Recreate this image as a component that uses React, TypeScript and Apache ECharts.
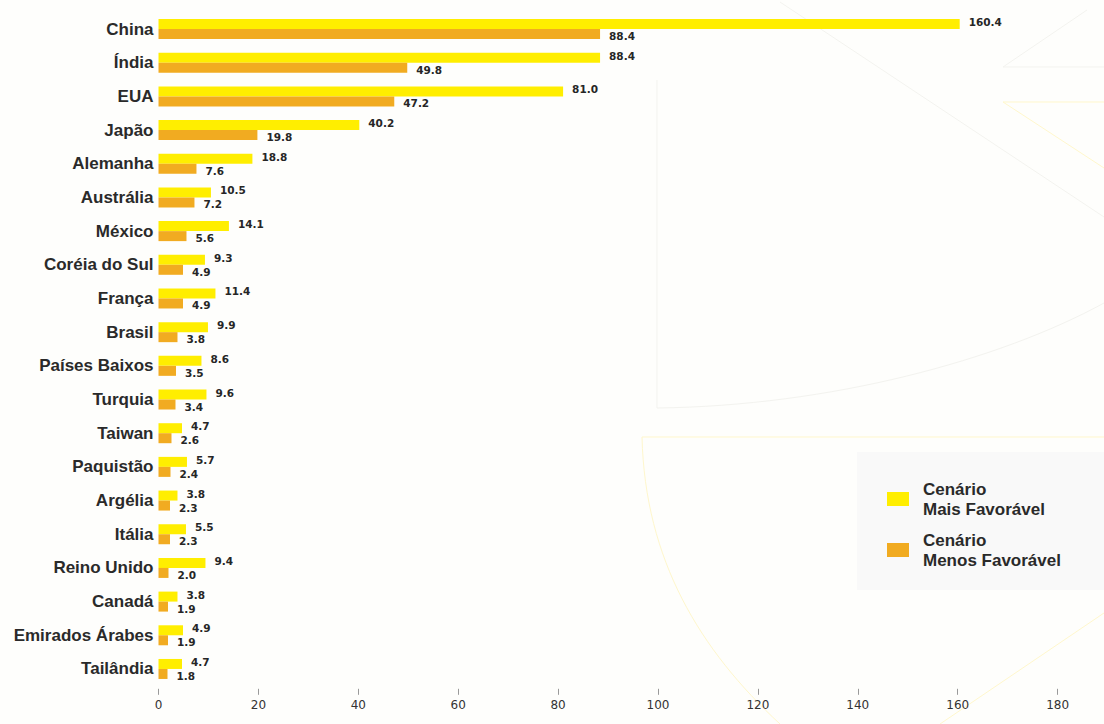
import React, { useEffect, useRef } from "react";
import * as echarts from "echarts";

const categories = [
  "China", "Índia", "EUA", "Japão", "Alemanha", "Austrália", "México",
  "Coréia do Sul", "França", "Brasil", "Países Baixos", "Turquia", "Taiwan",
  "Paquistão", "Argélia", "Itália", "Reino Unido", "Canadá",
  "Emirados Árabes", "Tailândia",
];
const maisFavoravel = [
  160.4, 88.4, 81.0, 40.2, 18.8, 10.5, 14.1, 9.3, 11.4, 9.9, 8.6, 9.6, 4.7,
  5.7, 3.8, 5.5, 9.4, 3.8, 4.9, 4.7,
];
const menosFavoravel = [
  88.4, 49.8, 47.2, 19.8, 7.6, 7.2, 5.6, 4.9, 4.9, 3.8, 3.5, 3.4, 2.6, 2.4,
  2.3, 2.3, 2.0, 1.9, 1.9, 1.8,
];
const seriesNames = ["Cenário\nMais Favorável", "Cenário\nMenos Favorável"];
const xTicks = { min: 0, max: 180, interval: 20 };

const YELLOW = "#FFEE00";
const ORANGE = "#F1AB21";

export default function App() {
  const ref = useRef<HTMLDivElement>(null);
  useEffect(() => {
    if (!ref.current) return;
    const chart = echarts.init(ref.current, undefined, { renderer: "svg" });
    const valueLabel = (dy: number) => ({
      show: true,
      position: "right" as const,
      distance: 9,
      offset: [0, dy],
      fontFamily: "DejaVu Sans",
      fontWeight: "bold" as const,
      fontSize: 10.5,
      color: "#262626",
      formatter: (p: any) => Number(p.value).toFixed(1),
    });
    const faintGrey = { stroke: "#F3F3EF", lineWidth: 1, fill: null };
    const faintYellow = { stroke: "#FFF7CC", lineWidth: 1, fill: null };
    chart.setOption({
      animation: false,
      backgroundColor: "#FEFEFC",
      textStyle: { fontFamily: "Liberation Sans, Arial, sans-serif" },
      graphic: [
        { type: "line", silent: true, z: -5, shape: { x1: 1003, y1: 67, x2: 1087, y2: 10 }, style: faintGrey },
        { type: "line", silent: true, z: -5, shape: { x1: 1003, y1: 67, x2: 1104, y2: 67 }, style: faintGrey },
        { type: "line", silent: true, z: -5, shape: { x1: 780, y1: 2, x2: 1104, y2: 217 }, style: faintGrey },
        { type: "line", silent: true, z: -5, shape: { x1: 1003, y1: 102, x2: 1104, y2: 102 }, style: faintYellow },
        { type: "line", silent: true, z: -5, shape: { x1: 1003, y1: 102, x2: 1104, y2: 168 }, style: faintYellow },
        { type: "line", silent: true, z: -5, shape: { x1: 657, y1: 80, x2: 657, y2: 408 }, style: faintGrey },
        { type: "bezierCurve", silent: true, z: -5, shape: { x1: 657, y1: 408, x2: 1104, y2: 303, cpx1: 830, cpy1: 406, cpx2: 1000, cpy2: 360 }, style: faintGrey },
        { type: "line", silent: true, z: -5, shape: { x1: 642, y1: 437, x2: 1104, y2: 437 }, style: faintYellow },
        { type: "bezierCurve", silent: true, z: -5, shape: { x1: 642, y1: 437, x2: 780, y2: 724, cpx1: 645, cpy1: 560, cpx2: 700, cpy2: 650 }, style: faintYellow },
        { type: "line", silent: true, z: -5, shape: { x1: 1104, y1: 613, x2: 940, y2: 724 }, style: faintYellow },
        { type: "rect", silent: true, z: 0, shape: { x: 857, y: 452, width: 247, height: 138 }, style: { fill: "#F9F9F9" } },
      ],
      grid: { left: 158.5, right: 46.4, top: 12.2, bottom: 38.2, containLabel: false },
      legend: {
        orient: "vertical",
        left: 887,
        top: 479,
        itemWidth: 22,
        itemHeight: 14,
        itemGap: 11,
        icon: "rect",
        padding: 0,
        data: seriesNames,
        textStyle: {
          fontFamily: "Liberation Sans, Arial, sans-serif",
          fontWeight: "bold",
          fontSize: 17,
          lineHeight: 20,
          color: "#2a2a2a",
          padding: [0, 0, 0, 9],
        },
      },
      xAxis: {
        type: "value",
        min: xTicks.min,
        max: xTicks.max,
        interval: xTicks.interval,
        offset: 3,
        axisLine: { show: false },
        axisTick: { show: true, length: 6, lineStyle: { color: "#9a9a9a", width: 1 } },
        axisLabel: { fontFamily: "DejaVu Sans", fontSize: 12, color: "#333", margin: 10 },
        splitLine: { show: false },
      },
      yAxis: {
        type: "category",
        data: categories,
        inverse: true,
        axisLine: { show: false },
        axisTick: { show: false },
        axisLabel: {
          fontFamily: "Liberation Sans, Arial, sans-serif",
          fontWeight: "bold",
          fontSize: 17,
          color: "#2a2a2a",
          margin: 5,
        },
      },
      series: [
        {
          name: seriesNames[0],
          type: "bar",
          data: maisFavoravel,
          barWidth: 10,
          barGap: "0%",
          itemStyle: { color: YELLOW },
          label: valueLabel(-2),
        },
        {
          name: seriesNames[1],
          type: "bar",
          data: menosFavoravel,
          barWidth: 10,
          barGap: "0%",
          itemStyle: { color: ORANGE },
          label: valueLabel(2),
        },
      ],
    });
    return () => chart.dispose();
  }, []);
  return (
    <div
      ref={ref}
      style={{ position: "fixed", left: 0, top: 0, width: 1104, height: 724 }}
    />
  );
}
